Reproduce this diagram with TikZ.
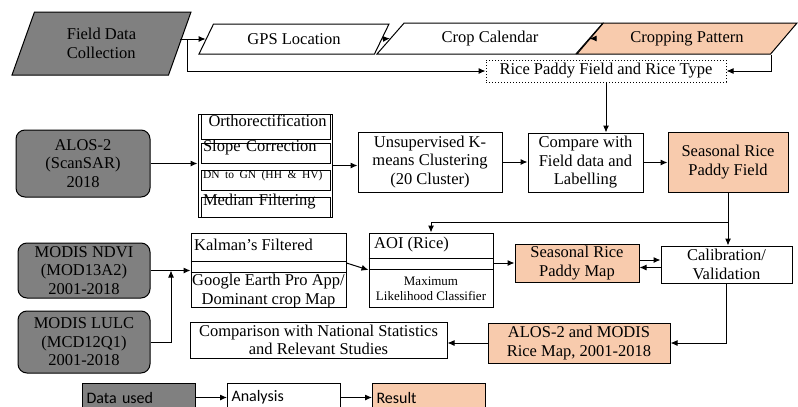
\documentclass[tikz,border=0pt]{standalone}
\usepackage{fontspec}
\setmainfont{LiberationSerif}[Extension=.ttf,UprightFont=*-Regular,BoldFont=*-Bold,ItalicFont=*-Italic]
\newfontfamily\legfont{Carlito}
\usetikzlibrary{shapes.geometric,arrows.meta,calc}
\definecolor{datagray}{RGB}{128,128,128}
\definecolor{respeach}{RGB}{248,203,173}
\tikzset{
  box/.style={draw,line width=1pt,inner sep=1pt,align=center,font=\fontsize{16.5}{18.5}\selectfont},
  gbox/.style={box,fill=datagray,rounded corners=9pt},
  rbox/.style={box,fill=respeach},
  para/.style={box,trapezium,trapezium left angle=#1,trapezium right angle={180-#1},trapezium stretches body},
  txt/.style={inner sep=1pt,font=\fontsize{16.5}{18.5}\selectfont},
  legbox/.style={draw,line width=1pt,anchor=north west,minimum width=113pt,minimum height=28pt,
    text width=105pt,align=left,inner xsep=4pt,font=\legfont\fontsize{16}{18}\selectfont},
  arr/.style={-{Latex[length=7pt,width=6pt]},line width=1pt}
}
\begin{document}
\begin{tikzpicture}[x=1pt,y=-1pt]
    \useasboundingbox (0,0) rectangle (798,407);
    \clip (0,0) rectangle (798,407);
    % field data
    \node[para=55,fill=datagray,minimum width=179pt,minimum height=63pt,align=left] (fdc) at (101.5,43.5) {Field Data\\Collection};
    \node[para=42,minimum width=190pt,minimum height=30pt] (gps) at (294,39) {GPS Location};
    \node[para=32,minimum width=226pt,minimum height=31pt] (crop) at (490,38.5) {Crop Calendar};
    \node[para=32,fill=respeach,minimum width=220pt,minimum height=31pt] (cpat) at (687,38.5) {Cropping Pattern};
    \node[box,dotted,minimum width=240pt,minimum height=22pt] (rice) at (606,71) {Rice Paddy Field and Rice Type};
    \coordinate (fsplit) at (187,39);
    \draw[arr] (fdc.east |- gps.west) -- (gps.west);
    \draw[arr] (fsplit) |- (rice.west);
    \draw[arr] (gps.east) -- (crop.west);
    \draw[arr] (crop.east) -- (cpat.west);
    \draw[arr] ([xshift=1pt]cpat.bottom right corner) |- (rice.east);
    % alos-2
    \node[gbox,minimum width=134pt,minimum height=67pt] (alos) at (83,163.5) {ALOS-2\\(ScanSAR)\\2018};
    \node[draw,line width=1pt,minimum width=134pt,minimum height=103pt] (stack) at (265,165.5) {};
    \foreach \i/\yc/\ht/\lab in {1/126.5/25/{\ Orthorectification},2/153/20/{Slope Correction},
        3/180/20/{\fontsize{11.5}{13}\selectfont DN to GN (HH \& HV)},4/207/20/{Median Filtering}}
      \node[box,minimum width=129pt,minimum height=\ht pt,text width=125pt,align=left,inner xsep=2pt]
        (pre\i) at (265.5,\yc) {\lab};
    \node[box,minimum width=144pt,minimum height=60pt] (unsup) at (430,162) {Unsupervised K-\\means Clustering\\(20 Cluster)};
    \node[box,minimum width=115pt,minimum height=59pt] (cmp) at (585.5,162.5) {Compare with\\Field data and\\Labelling};
    \node[rbox,minimum width=120pt,minimum height=60pt] (srpf) at (728,162) {Seasonal Rice\\Paddy Field};
    \draw[arr] (alos.east) -- (alos.east -| stack.west);
    \draw[arr] (stack.east) -- (stack.east -| unsup.west);
    \draw[arr] (unsup.east) -- (unsup.east -| cmp.west);
    \draw[arr] (cmp.east) -- (cmp.east -| srpf.west);
    \draw[arr] (rice.south) -- (rice.south |- cmp.north);
    % modis
    \node[gbox,minimum width=132pt,minimum height=55pt] (ndvi) at (84,270.5) {MODIS NDVI\\(MOD13A2)\\2001-2018};
    \node[gbox,minimum width=132pt,minimum height=62pt] (lulc) at (84,342) {MODIS LULC\\(MCD12Q1)\\2001-2018};
    \node[draw,line width=1pt,minimum width=155pt,minimum height=74pt] (kal) at (268.5,270) {};
    \draw[line width=1pt] ($(kal.west)+(0,-9)$) -- ($(kal.east)+(0,-9)$)
      ($(kal.west)+(0,2)$) -- ($(kal.east)+(0,2)$);
    \node[txt,anchor=west] (kaltop) at (193,245) {Kalman's Filtered};
    \node[txt,align=center] (kalbot) at (268.5,291) {Google Earth Pro App/\\Dominant crop Map};
    \node[draw,line width=1pt,minimum width=124pt,minimum height=74pt] (aoi) at (431,270) {};
    \draw[line width=1pt] ($(aoi.west)+(0,-12)$) -- ($(aoi.east)+(0,-12)$)
      ($(aoi.west)+(0,-1)$) -- ($(aoi.east)+(0,-1)$);
    \node[txt,anchor=west] (aoitop) at (373,245) {AOI (Rice)};
    \node[txt,align=center,font=\fontsize{13}{15}\selectfont] (aoibot) at (431,289) {Maximum\\Likelihood Classifier};
    \node[rbox,minimum width=124pt,minimum height=38pt] (map) at (577,263) {Seasonal Rice\\Paddy Map};
    \node[box,minimum width=131pt,minimum height=37pt] (cal) at (726.5,264.5) {Calibration/\\Validation};
    \node[rbox,minimum width=182pt,minimum height=40pt] (rmap) at (579,343) {ALOS-2 and MODIS\\Rice Map, 2001-2018};
    \node[box,minimum width=257pt,minimum height=36pt,inner sep=0pt] (comp) at (318.5,340) {Comparison with National Statistics\\and Relevant Studies};
    \coordinate (kjoin) at (171,270.5);
    \coordinate (bsplit) at ($(srpf.south)+(0,30)$);
    \draw[arr] (ndvi.east) -- (ndvi.east -| kal.west);
    \draw[arr] (lulc.east) -| (kjoin);
    \draw[arr] (kal.east |- map.west) -- (kal.east -| aoi.west);
    \draw[arr] (aoi.east |- map.west) -- (map.west);
    \draw[arr] (srpf.south) -- (srpf.south |- cal.north);
    \draw[arr] (bsplit) -| (aoi.north);
    \draw[arr] ([yshift=3pt]map.east) -- ([yshift=3pt]map.east -| cal.west);
    \draw[arr] ([yshift=-3pt]cal.west) -- ([yshift=-3pt]cal.west -| map.east);
    \draw[arr] (cal.south) |- (rmap.east);
    \draw[arr] (rmap.west) -- (rmap.west -| comp.east);
    % legend
    \node[legbox,fill=datagray] (lused) at (82,383) {Data used};
    \node[legbox] (lana) at (227,383) {Analysis};
    \node[legbox,fill=respeach] (lres) at (372,383) {Result};
    \draw[arr] (lused.east) -- (lana.west);
    \draw[arr] (lana.east) -- (lres.west);
\end{tikzpicture}
\end{document}
